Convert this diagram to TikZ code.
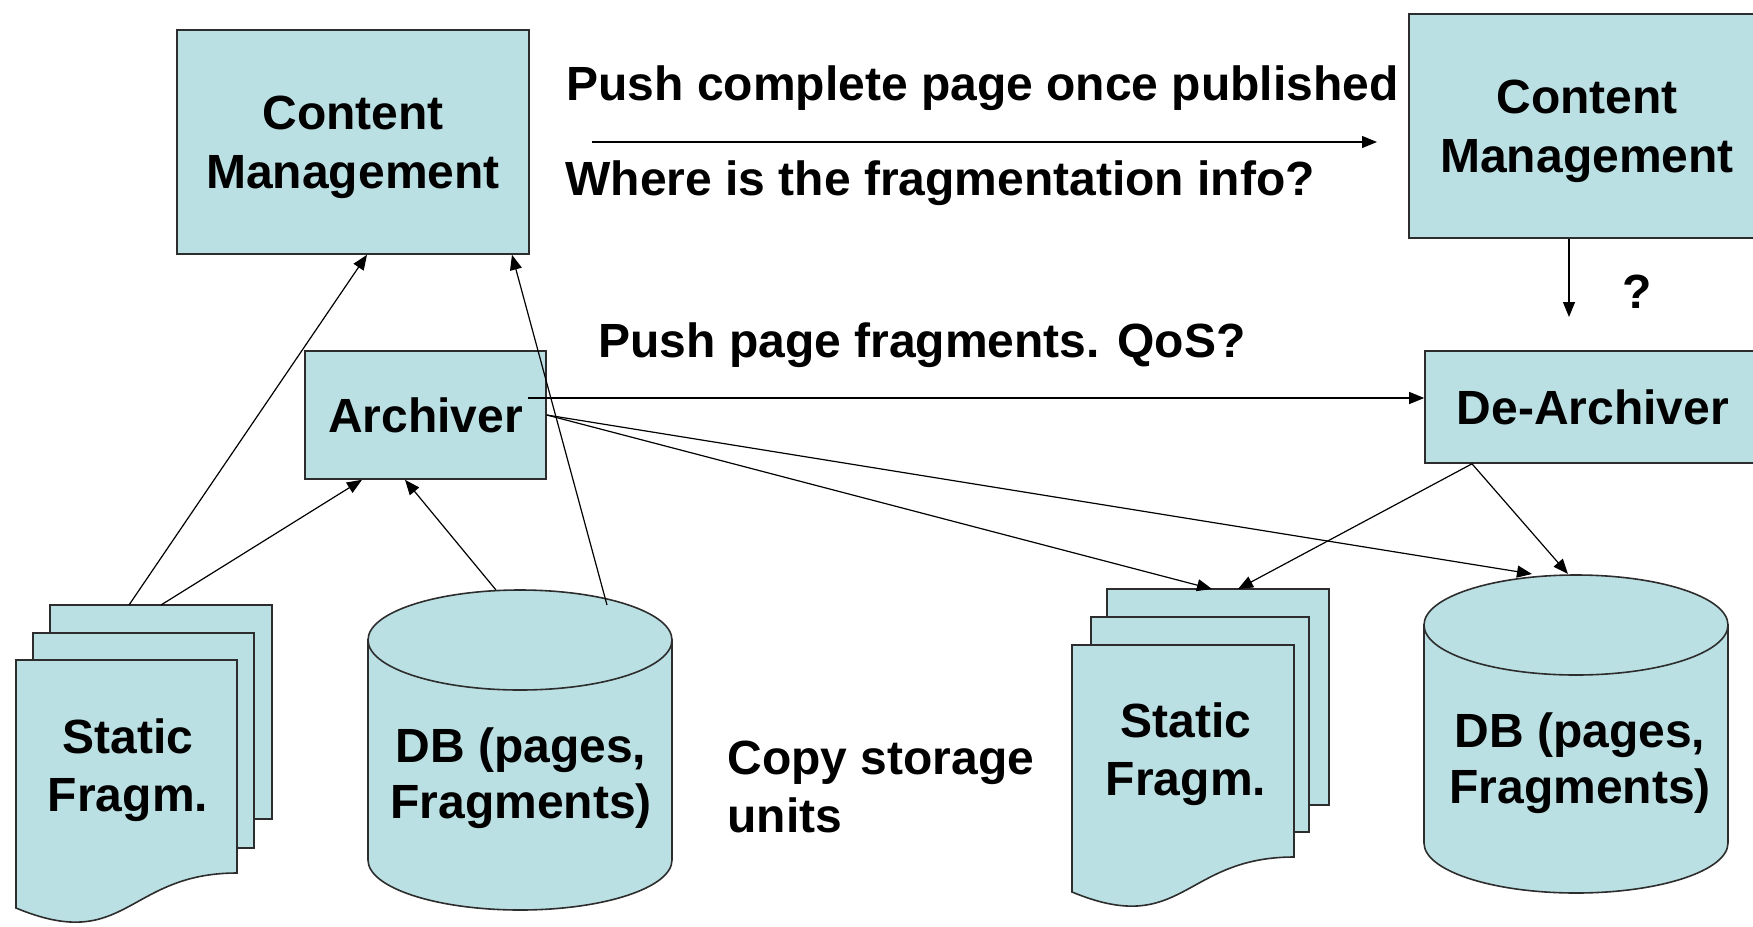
\documentclass[tikz,border=0pt]{standalone}
\usepackage{fontspec}
\setmainfont{Liberation Sans}
\usetikzlibrary{arrows.meta,calc}
\definecolor{boxfill}{RGB}{187,224,227}
\definecolor{edgegray}{RGB}{45,45,45}

\begin{document}
\begin{tikzpicture}[x=0.5pt,y=-0.5pt,
  lbl/.style={inner sep=0pt, font=\fontsize{24}{28.5}\selectfont\bfseries},
  box/.style={draw=edgegray, fill=boxfill, line width=0.8pt, inner sep=0pt,
    align=center, text depth=0pt, font=\fontsize{24}{29.5}\selectfont\bfseries},
  shapeline/.style={draw=edgegray, fill=boxfill, line width=0.8pt},
  conn/.style={draw=black, line width=0.6pt, -{Triangle[length=7.5pt,width=6pt]}},
]
\path[use as bounding box, clip] (0,0) rectangle (1753,927);

% ---------- boxes ----------
\node[box, minimum width=176pt, minimum height=112pt] (cmL) at (353,142) {Content\\Management};
\node[box, minimum width=178pt, minimum height=112pt] (cmR) at (1587,126) {Content\\Management};
\node[box, minimum width=120.5pt, minimum height=64pt] (arch) at (425.5,415) {Archiver};
\node[box, minimum width=168pt, minimum height=56pt] (dearch) at (1593,407) {De-Archiver};

% ---------- left stack of static fragments ----------
\path[shapeline] (50,605) rectangle (272,819);
\path[shapeline] (33,633) rectangle (254,848);
\path[shapeline] (16,660) -- (237,660) -- (237,873)
  .. controls (126.5,873) and (126.5,954) .. (16,908) -- cycle;
\coordinate (lsA) at (129,605);
\coordinate (lsB) at (161,605);
\node[lbl, align=center, font=\fontsize{24}{28.75}\selectfont\bfseries] (lsText) at (128,770) {Static\\Fragm.};

% ---------- left database ----------
\path[shapeline] (368,640) -- (368,860)
  arc[start angle=180, end angle=0, x radius=152, y radius=50] -- (672,640) -- cycle;
\path[shapeline] (520,640) ellipse [x radius=152, y radius=50];
\coordinate (ldbA) at (496,590);
\coordinate (ldbB) at (607,605);
\node[lbl, align=center, font=\fontsize{24}{28}\selectfont\bfseries] (ldbText) at (521,778) {DB (pages,\\Fragments)};

% ---------- right stack of static fragments ----------
\path[shapeline] (1107,589) rectangle (1329,805);
\path[shapeline] (1091,617) rectangle (1309,832);
\path[shapeline] (1072,645) -- (1294,645) -- (1294,857)
  .. controls (1183,857) and (1183,938) .. (1072,892) -- cycle;
\coordinate (rsA) at (1212,589);
\coordinate (rsB) at (1238,589);
\node[lbl, align=center, font=\fontsize{24}{28.75}\selectfont\bfseries] (rsText) at (1186,754) {Static\\Fragm.};

% ---------- right database ----------
\path[shapeline] (1424,625) -- (1424,843)
  arc[start angle=180, end angle=0, x radius=152, y radius=50] -- (1728,625) -- cycle;
\path[shapeline] (1576,625) ellipse [x radius=152, y radius=50];
\coordinate (rdbA) at (1532,574);
\coordinate (rdbB) at (1568,574);
\node[lbl, align=center, font=\fontsize{24}{28}\selectfont\bfseries] (rdbText) at (1580,763) {DB (pages,\\Fragments)};

% ---------- free labels ----------
\node[lbl, anchor=base west] (pushLbl) at (566,100) {Push complete page once published};
\node[lbl, anchor=base west] (whereLbl) at (565,195) {Where is the fragmentation info?};
\node[lbl, anchor=base west] (fragLbl) at (598,357) {Push page fragments. QoS?};
\node[lbl, anchor=base west] (qLbl) at (1622,308) {?};
\node[lbl, anchor=west, align=left, font=\fontsize{24}{29}\selectfont\bfseries] (copyLbl) at (727,787) {Copy storage\\units};

% ---------- connectors ----------
\coordinate (pushFrom) at (592,142);
\coordinate (pushTo) at (1377,142);
\coordinate (qTip) at (1569,317);
\coordinate (archOut) at (528,398);

\draw[conn] (pushFrom) -- (pushTo);
\draw[conn] ([xshift=-9pt]cmR.south) -- (qTip);
\draw[conn] (archOut) -- ([yshift=4.5pt]dearch.west);

\draw[conn] (lsA) -- ([xshift=7pt]cmL.south);
\draw[conn] (lsB) -- ([xshift=-31.75pt]arch.south);
\draw[conn] (ldbA) -- ([xshift=-10.25pt]arch.south);
\draw[conn] (ldbB) -- ([xshift=79.5pt]cmL.south);

\draw[conn] (arch.east) -- (rsA);
\draw[conn] (arch.east) -- (rdbA);
\draw[conn] ([xshift=-60.5pt]dearch.south) -- (rsB);
\draw[conn] ([xshift=-60.5pt]dearch.south) -- (rdbB);
\end{tikzpicture}
\end{document}
